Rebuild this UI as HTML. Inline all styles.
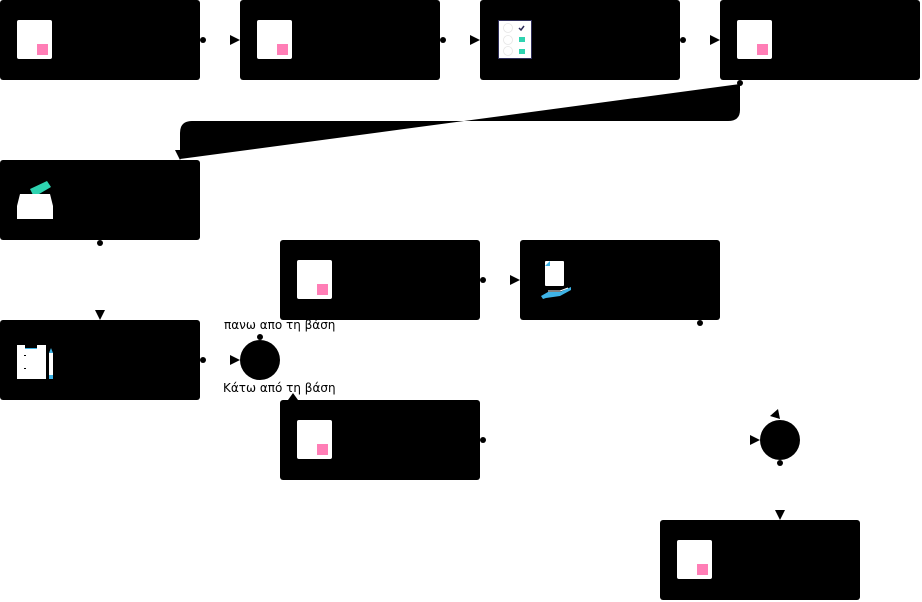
<!DOCTYPE html>
<html><head><meta charset="utf-8"><style>html,body{margin:0;padding:0;background:#fff;width:922px;height:602px;overflow:hidden}svg{display:block}</style></head><body>
<svg width="922" height="602" viewBox="0 0 922 602" xmlns="http://www.w3.org/2000/svg">
<defs>
<g id="doc"><rect x="0" y="0" width="35" height="39" rx="2" fill="#fff"/><rect x="20" y="24" width="11" height="11" fill="#ff7eb6"/></g>
</defs>
<g fill="#000">
<rect x="0" y="0" width="200" height="80" rx="3"/>
<rect x="240" y="0" width="200" height="80" rx="3"/>
<rect x="480" y="0" width="200" height="80" rx="3"/>
<rect x="720" y="0" width="200" height="80" rx="3"/>
<rect x="0" y="160" width="200" height="80" rx="3"/>
<rect x="280" y="240" width="200" height="80" rx="3"/>
<rect x="520" y="240" width="200" height="80" rx="3"/>
<rect x="0" y="320" width="200" height="80" rx="3"/>
<rect x="280" y="400" width="200" height="80" rx="3"/>
<rect x="660" y="520" width="200" height="80" rx="3"/>
<circle cx="260" cy="360" r="20"/>
<circle cx="780" cy="440" r="20"/>
<path d="M740,84 L740,110 Q740,121 728,121 L192,121 Q180,121 180,133 L180,159 Z"/>
<circle cx="203" cy="40" r="3"/>
<circle cx="443" cy="40" r="3"/>
<circle cx="683" cy="40" r="3"/>
<circle cx="740" cy="83" r="3"/>
<circle cx="100" cy="243" r="3"/>
<circle cx="483" cy="280" r="3"/>
<circle cx="700" cy="323" r="3"/>
<circle cx="203" cy="360" r="3"/>
<circle cx="260" cy="337" r="3"/>
<circle cx="483" cy="440" r="3"/>
<circle cx="780" cy="463" r="3"/>
<polygon points="230,35 240,40 230,45"/>
<polygon points="470,35 480,40 470,45"/>
<polygon points="710,35 720,40 710,45"/>
<polygon points="175,150 185,150 180,160"/>
<polygon points="95,310 105,310 100,320"/>
<polygon points="230,355 240,360 230,365"/>
<polygon points="510,275 520,280 510,285"/>
<polygon points="288,400 298,400 293,393"/>
<polygon points="750,435 760,440 750,445"/>
<polygon points="770,416 778,409 780,419"/>
<polygon points="775,510 785,510 780,520"/>
</g>
<use href="#doc" x="17" y="20"/>
<use href="#doc" x="257" y="20"/>
<use href="#doc" x="737" y="20"/>
<use href="#doc" x="297" y="260"/>
<use href="#doc" x="297" y="420"/>
<use href="#doc" x="677" y="540"/>
<rect x="498.5" y="20.5" width="33" height="38" fill="#fff" stroke="#2f2e5a" stroke-width="1"/>
<g fill="none" stroke="#e6e6e6" stroke-width="0.8"><circle cx="508" cy="28" r="4.5"/><circle cx="508" cy="40" r="4.5"/><circle cx="508" cy="51" r="4.5"/></g>
<path d="M519,28 L521,30 L524,26" stroke="#2f2e5a" stroke-width="1.5" fill="none"/>
<rect x="519" y="37" width="6" height="5" fill="#2ed3b0"/>
<rect x="519" y="49" width="6" height="5" fill="#2ed3b0"/>
<polygon points="30,189 47,181 51,187 34,197" fill="#2ed3b0"/>
<polygon points="20,194 50,194 53,206 17,206" fill="#fff"/>
<rect x="17" y="206" width="36" height="13" fill="#fff"/>
<rect x="545" y="261" width="19" height="25" rx="1" fill="#fff"/>
<polygon points="545,266 550,261 550,266" fill="#3eb3e6"/>
<path d="M541,296 L548,292 L560,292 L571,287 L571,290 L560,296 L546,298 L543,299 Z" fill="#3eb3e6"/>
<path d="M548,291 L560,291 L568,288" stroke="#fff" stroke-width="1" fill="none"/>
<rect x="17" y="345" width="29" height="34" fill="#fff"/>
<rect x="25" y="345" width="12" height="4" fill="#000"/>
<rect x="25" y="348" width="12" height="1" fill="#3eb3e6"/>
<rect x="24" y="355" width="2" height="1" fill="#000"/>
<rect x="24" y="368" width="2" height="1" fill="#000"/>
<rect x="49" y="353" width="4" height="26" fill="#fff"/>
<polygon points="49,353 51,348 53,353" fill="#3eb3e6"/>
<rect x="49" y="375" width="4" height="4" fill="#3eb3e6"/>
<g font-family="'DejaVu Sans',sans-serif" font-size="12" fill="#000">
<text x="224" y="329">πανω απο τη βάση</text>
<text x="223" y="392">Κάτω από τη βάση</text>
</g>
</svg>
</body></html>
